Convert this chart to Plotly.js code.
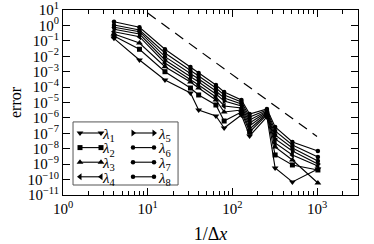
<!DOCTYPE html>
<html><head><meta charset="utf-8">
<script src="https://cdn.plot.ly/plotly-3.0.1.min.js"></script>
<style>html,body{margin:0;padding:0;background:#fff}#g{width:374px;height:244px}</style>
</head><body><div id="g"></div>
<script>
const dx = [4, 8, 16, 32, 40, 64, 80, 128, 160, 256, 320, 512, 1024];
const lam1 = [0.146, 0.00572, 2.88e-4, 4.14e-5, 3.27e-6, 1.34e-6, 2.23e-7, 1.55e-6, 6.75e-8, 1.15e-6, 5.68e-10, 7.0e-11, 4.89e-10];
const lam2 = [0.206, 0.0283, 9.97e-4, 8.7e-5, 3.08e-5, 6.9e-6, 6.3e-7, 2.43e-6, 1.22e-7, 1.55e-6, 3.95e-9, 8.87e-10, 4.2e-10];
const lam3 = [0.278, 0.0724, 0.0021, 2.14e-4, 8.7e-5, 1.46e-5, 2.43e-6, 3.27e-6, 1.92e-7, 1.8e-6, 1.30e-8, 1.87e-9, 6.0e-11];
const lam4 = [0.39, 0.185, 0.00366, 3.35e-4, 1.37e-4, 2.28e-5, 5.94e-6, 4.41e-6, 3.0e-7, 2.09e-6, 2.37e-8, 3.95e-9, 7.64e-10];
const lam5 = [0.56, 0.278, 0.00572, 5.25e-4, 2.14e-4, 3.57e-5, 1.26e-5, 5.94e-6, 4.7e-7, 2.43e-6, 4.31e-8, 7.18e-9, 1.03e-9];
const lam6 = [0.755, 0.39, 0.00936, 8.2e-4, 3.35e-4, 5.58e-5, 1.96e-5, 8.0e-6, 7.35e-7, 2.82e-6, 7.83e-8, 1.12e-8, 1.61e-9];
const lam7 = [1.06, 0.505, 0.0163, 1.29e-3, 5.25e-4, 8.7e-5, 3.08e-5, 1.08e-5, 1.15e-6, 3.27e-6, 1.42e-7, 1.76e-8, 2.93e-9];
const lam8 = [1.74, 0.755, 0.0283, 2.01e-3, 8.2e-4, 1.37e-4, 4.81e-5, 1.46e-5, 1.8e-6, 3.8e-6, 2.58e-7, 2.75e-8, 7.18e-9];
const refX = [10, 1000];
const refY = [6.3, 6.3e-8];
const seriesNames = ['<i>λ</i><sub>1</sub>','<i>λ</i><sub>2</sub>','<i>λ</i><sub>3</sub>','<i>λ</i><sub>4</sub>','<i>λ</i><sub>5</sub>','<i>λ</i><sub>6</sub>','<i>λ</i><sub>7</sub>','<i>λ</i><sub>8</sub>'];
const yTickVals = [1e-11,1e-10,1e-9,1e-8,1e-7,1e-6,1e-5,1e-4,1e-3,1e-2,1e-1,1,10];
const yTickText = ['10<sup>−11</sup>','10<sup>−10</sup>','10<sup>−9</sup>','10<sup>−8</sup>','10<sup>−7</sup>','10<sup>−6</sup>','10<sup>−5</sup>','10<sup>−4</sup>','10<sup>−3</sup>','10<sup>−2</sup>','10<sup>−1</sup>','10<sup>0</sup>','10<sup>1</sup>'];
const xTickVals = [1, 10, 100, 1000];
const xTickText = ['10<sup>0</sup>','10<sup>1</sup>','10<sup>2</sup>','10<sup>3</sup>'];
const xMinor = [2,3,4,5,6,7,8,9,20,30,40,50,60,70,80,90,200,300,400,500,600,700,800,900,2000,3000];

const all = [lam1, lam2, lam3, lam4, lam5, lam6, lam7, lam8];
const symbols = ['triangle-down','square','triangle-up','triangle-left','triangle-right','circle','circle','circle'];
const sizes = [6,5,6,6,6,4.5,4.5,4.5];
const FONT = 'Liberation Serif, DejaVu Serif, serif';

const traces = [{
  x: refX, y: refY, mode: 'lines', showlegend: false,
  line: {color: '#000', width: 1.2, dash: '10px,7px'}, hoverinfo: 'skip'
}];
all.forEach((s, i) => {
  traces.push({
    x: dx, y: s, mode: 'lines+markers', name: seriesNames[i],
    legend: i < 4 ? 'legend' : 'legend2',
    line: {color: '#000', width: 1.1},
    marker: {symbol: symbols[i], size: sizes[i], color: '#000'}
  });
});

const layout = {
  width: 374, height: 244,
  margin: {l: 63, r: 16, t: 10, b: 49},
  paper_bgcolor: '#fff', plot_bgcolor: '#fff',
  font: {family: FONT, size: 15, color: '#000'},
  showlegend: true,
  xaxis: {
    type: 'log', range: [0, 3.484], showline: true, mirror: 'ticks',
    linecolor: '#000', linewidth: 1, showgrid: false, zeroline: false,
    ticks: 'inside', ticklen: 7, tickcolor: '#000', tickwidth: 1,
    tickmode: 'array', tickvals: xTickVals, ticktext: xTickText,
    tickfont: {family: FONT, size: 15, color: '#000'}, ticklabeloverflow: 'allow',
    minor: {tickmode: 'array', tickvals: xMinor, ticks: 'inside', ticklen: 4, tickcolor: '#000', showgrid: false},
    title: {text: '1/Δ<i>x</i>', font: {family: FONT, size: 18, color: '#000'}}
  },
  yaxis: {
    type: 'log', range: [-11, 1], showline: true, mirror: 'ticks',
    linecolor: '#000', linewidth: 1, showgrid: false, zeroline: false,
    ticks: 'inside', ticklen: 7, tickcolor: '#000', tickwidth: 1,
    tickmode: 'array', tickvals: yTickVals, ticktext: yTickText,
    tickfont: {family: FONT, size: 15, color: '#000'}, ticklabeloverflow: 'allow',
    title: {text: 'error', font: {family: FONT, size: 16, color: '#000'}}
  },
  legend: {
    x: 0.0, y: 0.40, xanchor: 'left', yanchor: 'top',
    bgcolor: 'rgba(0,0,0,0)', borderwidth: 0,
    font: {family: FONT, size: 15, color: '#000'}, itemwidth: 30, tracegroupgap: 0
  },
  legend2: {
    x: 0.2, y: 0.40, xanchor: 'left', yanchor: 'top',
    bgcolor: 'rgba(0,0,0,0)', borderwidth: 0,
    font: {family: FONT, size: 15, color: '#000'}, itemwidth: 30, tracegroupgap: 0
  },
  shapes: [{
    type: 'rect', xref: 'paper', yref: 'paper',
    x0: 0.034, x1: 0.39, y0: 0.054, y1: 0.395,
    line: {color: '#555', width: 1}, fillcolor: 'rgba(0,0,0,0)', layer: 'above'
  }]
};

function parseT(el) {
  const t = el.getAttribute('transform') || '';
  const m = t.match(/translate\(\s*([-\d.e]+)[ ,]+([-\d.e]+)\s*\)/);
  return m ? [parseFloat(m[1]), parseFloat(m[2])] : [0, 0];
}

// Compact the legend rows and draw markers at both ends of each key line
function tidyLegend(gd) {
  const targets = {legend: 66, legend2: 119};
  const firstRowY = 133, rowGap = 14.6;
  Object.keys(targets).forEach(id => {
    const lg = gd.querySelector('g.' + id);
    if (!lg) return;
    const [tx, ty] = parseT(lg);
    lg.querySelectorAll('[clip-path]').forEach(n => n.removeAttribute('clip-path'));
    const items = lg.querySelectorAll('g.traces');
    items.forEach((it, i) => {
      it.setAttribute('transform', 'translate(' + (targets[id] - tx) + ',' + (firstRowY - ty + i * rowGap) + ')');
      const ln = it.querySelector('g.legendlines path');
      if (ln) ln.setAttribute('d', 'M14,0h21');
      const pt = it.querySelector('g.legendsymbols path.scatterpts');
      if (pt) {
        pt.setAttribute('transform', 'translate(14,0)');
        const c = pt.cloneNode(true);
        c.setAttribute('transform', 'translate(35,0)');
        pt.parentNode.appendChild(c);
      }
      const txt = it.querySelector('text.legendtext');
      if (txt) {
        txt.setAttribute('x', '37');
        txt.querySelectorAll('tspan[x]').forEach(s => s.setAttribute('x', '37'));
      }
    });
  });
}

Plotly.newPlot('g', traces, layout, {staticPlot: true, displayModeBar: false}).then(tidyLegend);
</script>
</body></html>
